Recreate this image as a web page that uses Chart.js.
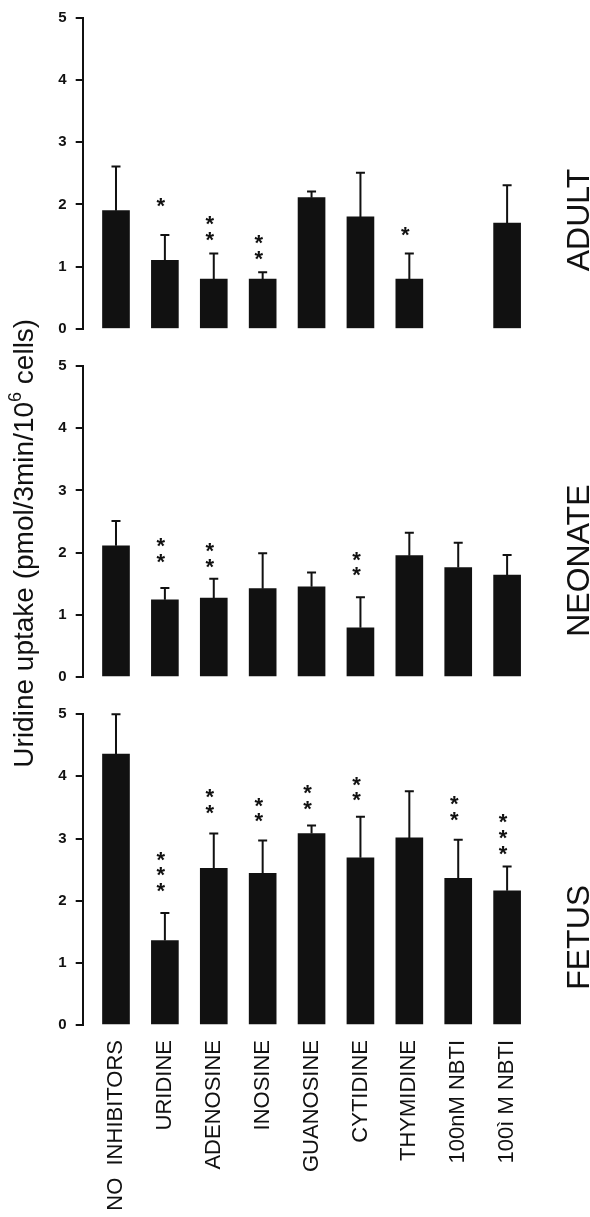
<!DOCTYPE html>
<html><head><meta charset="utf-8">
<script src="https://cdn.jsdelivr.net/npm/chart.js@4.4.0/dist/chart.umd.min.js"></script>
<style>html,body{margin:0;padding:0;background:#fff;}canvas{display:block;}</style>
</head><body>
<canvas id="c" width="590" height="1217"></canvas>
<script>
// ---- data ----
const categories = ["NO  INHIBITORS","URIDINE","ADENOSINE","INOSINE","GUANOSINE","CYTIDINE","THYMIDINE","100nM NBTI","100ì M NBTI"];
const yTickValues = [0,1,2,3,4,5];
const panelNames = ["ADULT","NEONATE","FETUS"];

const adultMean  = [1.90, 1.10, 0.80, 0.80, 2.11, 1.80, 0.80, null, 1.70];
const adultErr   = [0.71, 0.41, 0.41, 0.11, 0.10, 0.71, 0.41, null, 0.61];
const adultStars = [0, 1, 2, 2, 0, 0, 1, 0, 0];
const adultStarY = [null, 2.07, 1.53, 1.22, null, null, 1.61, null, null];

const neonateMean  = [2.11, 1.24, 1.27, 1.42, 1.45, 0.79, 1.95, 1.76, 1.64];
const neonateErr   = [0.40, 0.19, 0.31, 0.57, 0.23, 0.49, 0.37, 0.40, 0.32];
const neonateStars = [0, 2, 2, 0, 0, 2, 0, 0, 0];
const neonateStarY = [null, 1.95, 1.87, null, null, 1.73, null, null, null];

const fetusMean  = [4.36, 1.36, 2.52, 2.44, 3.08, 2.69, 3.01, 2.36, 2.16];
const fetusErr   = [0.64, 0.44, 0.56, 0.53, 0.13, 0.66, 0.75, 0.62, 0.39];
const fetusStars = [0, 3, 2, 2, 2, 2, 0, 2, 3];
const fetusStarY = [null, 2.25, 3.51, 3.37, 3.57, 3.71, null, 3.39, 2.85];

const yTitleMain = "Uridine uptake (pmol/3min/10";
const yTitleSup = "6";
const yTitleEnd = " cells)";

// ---- build ----
const series = [
  {axis:'yA', name:panelNames[0], mean:adultMean, err:adultErr, stars:adultStars, starY:adultStarY, labelAt:1.75},
  {axis:'yN', name:panelNames[1], mean:neonateMean, err:neonateErr, stars:neonateStars, starY:neonateStarY, labelAt:1.87},
  {axis:'yF', name:panelNames[2], mean:fetusMean, err:fetusErr, stars:fetusStars, starY:fetusStarY, labelAt:1.41}
];
const INK = '#111';
const FONT = '"Liberation Sans", Arial, Helvetica, sans-serif';

function yScale(weight){
  return {
    type:'linear', position:'left', stack:'p', stackWeight:5, weight:weight,
    min:0, max:5,
    afterBuildTicks: s => { s.ticks = yTickValues.map(v => ({value:v})); },
    afterFit: s => { s.width = 82.7; },
    ticks:{ font:{family:FONT, size:15, weight:'bold'}, color:INK, padding:9 },
    grid:{ display:true, drawOnChartArea:false, drawTicks:true, tickLength:7, color:INK, lineWidth:2 },
    border:{ display:true, color:INK, width:2 }
  };
}
function gapScale(weight){
  return { type:'linear', position:'left', stack:'p', stackWeight:0.6, weight:weight, display:false, min:0, max:1 };
}

const overlay = {
  id:'overlay',
  afterDatasetsDraw(chart){
    const ctx = chart.ctx, xs = chart.scales.x;
    series.forEach(s => {
      const ys = chart.scales[s.axis];
      ctx.save();
      ctx.strokeStyle = INK; ctx.lineWidth = 2;
      s.mean.forEach((m,i) => {
        if (m == null) return;
        const x = xs.getPixelForValue(i);
        const y0 = ys.getPixelForValue(m), y1 = ys.getPixelForValue(m + s.err[i]);
        ctx.beginPath();
        ctx.moveTo(x, y0); ctx.lineTo(x, y1);
        ctx.moveTo(x - 4.5, y1); ctx.lineTo(x + 4.5, y1);
        ctx.stroke();
      });
      ctx.fillStyle = INK;
      ctx.font = 'bold 22px ' + FONT;
      ctx.textAlign = 'center'; ctx.textBaseline = 'alphabetic';
      s.stars.forEach((n,i) => {
        if (!n) return;
        const x = xs.getPixelForValue(i) - 4;
        const yb = ys.getPixelForValue(s.starY[i]);
        for (let k = 0; k < n; k++) ctx.fillText('*', x, yb - k*15.7 + 12.9);
      });
      // panel label
      ctx.font = '32px ' + FONT;
      ctx.translate(589, ys.getPixelForValue(s.labelAt));
      ctx.rotate(-Math.PI/2);
      ctx.textAlign = 'center'; ctx.textBaseline = 'alphabetic';
      ctx.fillText(s.name, 0, 0);
      ctx.restore();
    });
    // y axis title
    ctx.save();
    ctx.fillStyle = INK;
    const fs = 28;
    ctx.font = fs + 'px ' + FONT;
    const w1 = ctx.measureText(yTitleMain).width;
    const w3 = ctx.measureText(yTitleEnd).width;
    ctx.font = Math.round(fs*0.65) + 'px ' + FONT;
    const w2 = ctx.measureText(yTitleSup).width;
    const W = w1 + w2 + w3;
    const endY = chart.scales.yA.bottom - 10;
    ctx.translate(33, endY + W);
    ctx.rotate(-Math.PI/2);
    ctx.textAlign = 'left'; ctx.textBaseline = 'alphabetic';
    ctx.font = fs + 'px ' + FONT;
    ctx.fillText(yTitleMain, 0, 0);
    ctx.font = Math.round(fs*0.65) + 'px ' + FONT;
    ctx.fillText(yTitleSup, w1, -fs*0.42);
    ctx.font = fs + 'px ' + FONT;
    ctx.fillText(yTitleEnd, w1 + w2, 0);
    ctx.restore();
  }
};

const datasets = series.map(s => ({
  label: s.name,
  yAxisID: s.axis,
  data: s.mean.map((v,i) => ({x:i, y:v})),
  backgroundColor: INK,
  borderWidth: 0,
  barThickness: 27,
  grouped: false
}));

new Chart(document.getElementById('c'), {
  type:'bar',
  data:{ datasets },
  options:{
    responsive:false, animation:false, devicePixelRatio:1,
    layout:{ padding:{ top:11, left:0, right:34, bottom:0 } },
    plugins:{ legend:{display:false}, tooltip:{enabled:false} },
    scales:{
      x:{
        type:'linear', position:'bottom', min:-0.681, max:9.0, offset:false,
        afterBuildTicks: s => { s.ticks = categories.map((c,i) => ({value:i})); },
        afterFit: s => { s.height = 192; s.paddingLeft = 0; s.paddingRight = 0; },
        ticks:{ autoSkip:false, maxRotation:90, minRotation:90, padding:15,
          callback:(v) => categories[v] ?? '',
          font:{family:FONT, size:22}, color:INK },
        grid:{ display:false, drawTicks:false, offset:false },
        border:{ display:false }
      },
      yA: yScale(5),
      g1: gapScale(4),
      yN: yScale(3),
      g2: gapScale(2),
      yF: yScale(1)
    }
  },
  plugins:[overlay]
});
</script>
</body></html>
